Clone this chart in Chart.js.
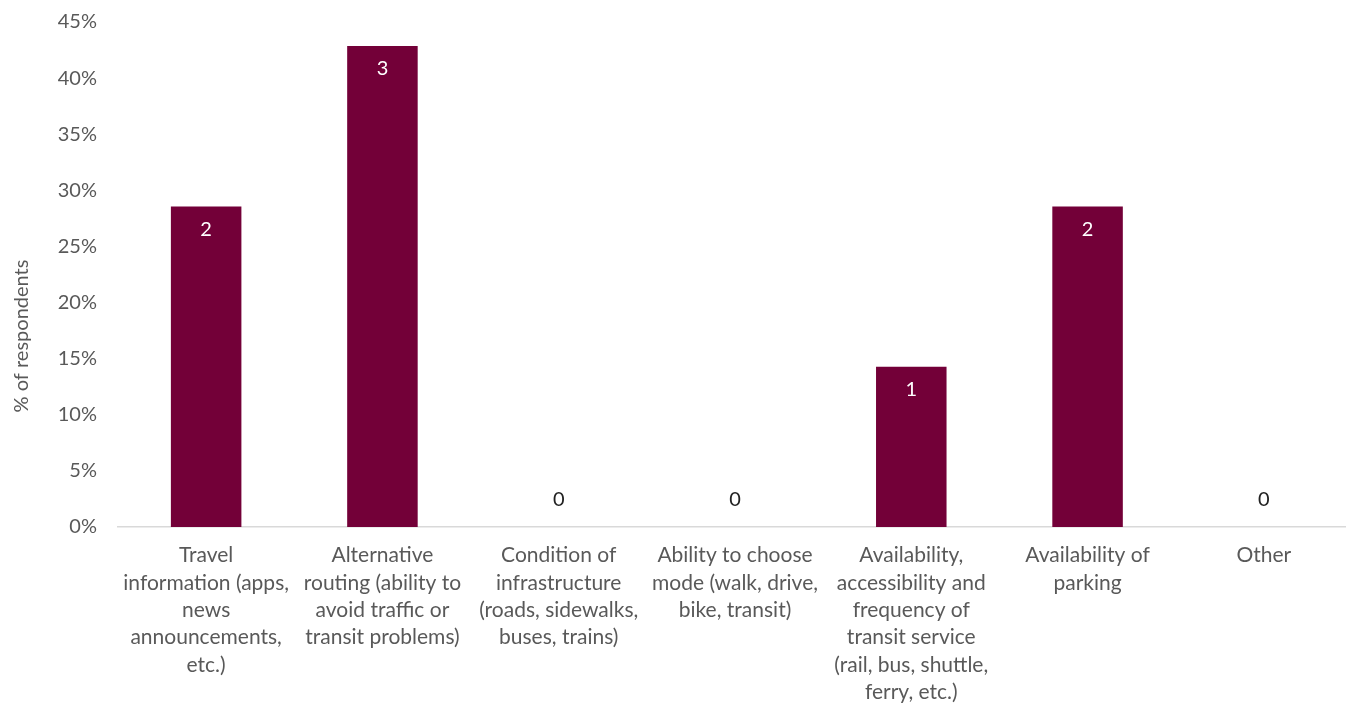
<!DOCTYPE html>
<html><head><meta charset="utf-8">
<script src="https://cdn.jsdelivr.net/npm/chart.js@4.4.0/dist/chart.umd.min.js"></script>
<style>html,body{margin:0;padding:0;background:#fff;overflow:hidden;}#wrap{width:1346px;height:704px;overflow:hidden;}</style>
</head><body><div id="wrap"><canvas id="c" width="1353" height="704"></canvas></div>
<script>
const categories = [
  ["Travel","information (apps,","news","announcements,","etc.)"],
  ["Alternative","routing (ability to","avoid traffic or","transit problems)"],
  ["Condition of","infrastructure","(roads, sidewalks,","buses, trains)"],
  ["Ability to choose","mode (walk, drive,","bike, transit)"],
  ["Availability,","accessibility and","frequency of","transit service","(rail, bus, shuttle,","ferry, etc.)"],
  ["Availability of","parking"],
  ["Other"]
];
const percentValues = [28.57, 42.86, 0, 0, 14.29, 28.57, 0];
const counts = [2, 3, 0, 0, 1, 2, 0];
const yTicks = [0,5,10,15,20,25,30,35,40,45];
const yTitle = '% of respondents';

const FONT = "Lato, 'Open Sans', sans-serif";
const labelPlugin = {
  id: 'countLabels',
  afterDatasetsDraw(chart) {
    const ctx = chart.ctx;
    const meta = chart.getDatasetMeta(0);
    ctx.save();
    ctx.font = "20px " + FONT;
    ctx.textAlign = 'center';
    ctx.textBaseline = 'middle';
    meta.data.forEach((bar, i) => {
      const c = counts[i];
      if (percentValues[i] > 0) {
        ctx.fillStyle = '#ffffff';
        ctx.fillText(String(c), bar.x, bar.y + 23);
      } else {
        ctx.fillStyle = '#222222';
        ctx.fillText(String(c), bar.x, bar.base - 27);
      }
    });
    ctx.translate(22, 336);
    ctx.rotate(-Math.PI / 2);
    ctx.fillStyle = '#595959';
    ctx.font = "20px " + FONT;
    ctx.fillText(yTitle, 0, 0);
    ctx.restore();
  }
};

new Chart(document.getElementById('c'), {
  type: 'bar',
  data: {
    labels: categories,
    datasets: [{
      data: percentValues,
      backgroundColor: '#730038',
      categoryPercentage: 1.0,
      barPercentage: 0.4
    }]
  },
  options: {
    responsive: false,
    animation: false,
    layout: { padding: { top: 22, right: 1, left: 0, bottom: 0 } },
    plugins: { legend: { display: false }, tooltip: { enabled: false } },
    scales: {
      x: {
        grid: { display: false, drawTicks: false },
        border: { display: true, color: '#d9d9d9', width: 1.5 },
        ticks: { color: '#595959', font: { family: FONT, size: 21, lineHeight: 1.3 }, padding: 15, maxRotation: 0, autoSkip: false },
        afterFit(s) { s.height = 177; }
      },
      y: {
        min: 0, max: 45,
        afterBuildTicks(s) { s.ticks = yTicks.map(v => ({ value: v })); },
        grid: { display: false, drawTicks: false },
        border: { display: false },
        ticks: { color: '#595959', font: { family: FONT, size: 20 }, padding: 21, callback: v => v + '%' },
        afterFit(s) { s.width = 118; s.paddingTop = 0; s.paddingBottom = 0; }
      }
    }
  },
  plugins: [labelPlugin]
});
</script>
</body></html>
